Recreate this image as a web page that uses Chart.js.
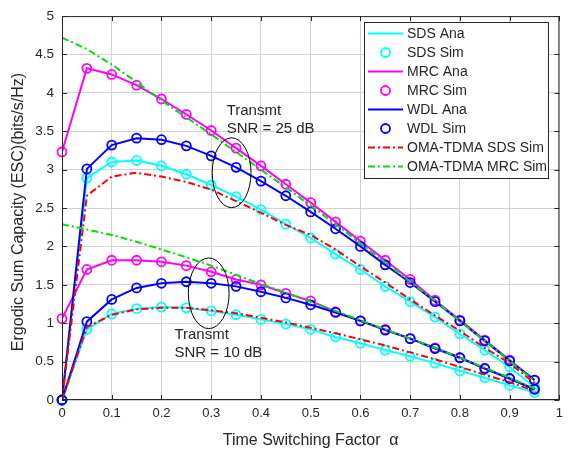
<!DOCTYPE html>
<html>
<head>
<meta charset="utf-8">
<script src="https://cdn.jsdelivr.net/npm/chart.js@4.4.1/dist/chart.umd.min.js"></script>
<style>
html,body{margin:0;padding:0;background:#fff;}
#wrap{width:569px;height:453px;}
</style>
</head>
<body>
<div id="wrap"><canvas id="c" width="569" height="453"></canvas></div>
<script>
// ---- data ----
const alpha = [0,0.05,0.1,0.15,0.2,0.25,0.3,0.35,0.4,0.45,0.5,0.55,0.6,0.65,0.7,0.75,0.8,0.85,0.9,0.95];

// Transmit SNR = 25 dB
const sdsAna25 = [0,2.89,3.10,3.12,3.05,2.94,2.80,2.65,2.48,2.29,2.11,1.90,1.70,1.48,1.28,1.08,0.86,0.65,0.43,0.17];
const sdsSim25 = [0,2.89,3.10,3.12,3.05,2.94,2.80,2.65,2.48,2.29,2.11,1.90,1.70,1.48,1.28,1.08,0.86,0.65,0.43,0.17];
const mrcAna25 = [3.23,4.32,4.24,4.10,3.92,3.72,3.51,3.28,3.05,2.81,2.57,2.32,2.07,1.82,1.57,1.30,1.04,0.78,0.52,0.26];
const mrcSim25 = [3.23,4.32,4.24,4.10,3.92,3.72,3.51,3.28,3.05,2.81,2.57,2.32,2.07,1.82,1.57,1.30,1.04,0.78,0.52,0.26];
const wdlAna25 = [0,3.01,3.32,3.41,3.39,3.31,3.18,3.03,2.85,2.66,2.45,2.23,2.00,1.76,1.53,1.28,1.03,0.77,0.51,0.26];
const wdlSim25 = [0,3.01,3.32,3.41,3.39,3.31,3.18,3.03,2.85,2.66,2.45,2.23,2.00,1.76,1.53,1.28,1.03,0.77,0.51,0.26];
const omaSds25 = [0,2.66,2.91,2.96,2.91,2.84,2.74,2.59,2.44,2.28,2.15,1.96,1.74,1.53,1.31,1.10,0.90,0.68,0.48,0.22];
const omaMrc25 = [4.72,4.57,4.37,4.14,3.90,3.68,3.46,3.23,3.00,2.77,2.53,2.29,2.04,1.79,1.54,1.29,1.03,0.77,0.51,0.25];

// Transmit SNR = 10 dB
const sdsAna10 = [0,0.92,1.12,1.19,1.21,1.20,1.16,1.11,1.05,0.99,0.92,0.82,0.74,0.65,0.57,0.48,0.38,0.29,0.19,0.10];
const sdsSim10 = [0,0.92,1.12,1.19,1.21,1.20,1.16,1.11,1.05,0.99,0.92,0.82,0.74,0.65,0.57,0.48,0.38,0.29,0.19,0.10];
const mrcAna10 = [1.06,1.70,1.82,1.82,1.80,1.75,1.67,1.57,1.50,1.39,1.29,1.15,1.03,0.92,0.80,0.68,0.55,0.41,0.28,0.14];
const mrcSim10 = [1.06,1.70,1.82,1.82,1.80,1.75,1.67,1.57,1.50,1.39,1.29,1.15,1.03,0.92,0.80,0.68,0.55,0.41,0.28,0.14];
const wdlAna10 = [0,1.02,1.31,1.46,1.52,1.54,1.52,1.48,1.41,1.33,1.24,1.14,1.03,0.91,0.80,0.67,0.55,0.41,0.28,0.14];
const wdlSim10 = [0,1.02,1.31,1.46,1.52,1.54,1.52,1.48,1.41,1.33,1.24,1.14,1.03,0.91,0.80,0.67,0.55,0.41,0.28,0.14];
const omaSds10 = [0,0.95,1.11,1.18,1.20,1.20,1.17,1.13,1.07,1.01,0.94,0.87,0.79,0.71,0.62,0.53,0.43,0.33,0.23,0.12];
const omaMrc10 = [2.29,2.22,2.15,2.06,1.96,1.86,1.75,1.63,1.51,1.40,1.28,1.16,1.04,0.92,0.80,0.68,0.55,0.42,0.29,0.15];

const seriesNames = ['SDS Ana','SDS Sim','MRC Ana','MRC Sim','WDL Ana','WDL Sim','OMA-TDMA SDS Sim','OMA-TDMA MRC Sim'];
const xTicks = [0,0.1,0.2,0.3,0.4,0.5,0.6,0.7,0.8,0.9,1];
const yTicks = [0,0.5,1,1.5,2,2.5,3,3.5,4,4.5,5];
const xTitle = 'Time Switching Factor  α';
const yTitle = 'Ergodic Sum Capacity (ESC)(bits/s/Hz)';
const notes = [
  {lines:['Transmt','SNR = 25 dB'], x:0.331, y:[3.77,3.53], ex:0.341, ey:2.96, rx:0.039, ry:0.455},
  {lines:['Transmt','SNR = 10 dB'], x:0.226, y:[0.85,0.61], ex:0.295, ey:1.39, rx:0.041, ry:0.46}
];

// ---- build ----
function join(a, b){
  const pts = alpha.map((x,i)=>({x:x, y:a[i]}));
  pts.push({x:alpha[alpha.length-1], y:null});
  return pts.concat(alpha.map((x,i)=>({x:x, y:b[i]})));
}
const FONT = '"Liberation Sans", Arial, Helvetica, sans-serif';
const INK = '#262626';
const styles = [
  {c:'#00ffff', line:true},
  {c:'#00ffff', line:false},
  {c:'#ff00ff', line:true},
  {c:'#ff00ff', line:false},
  {c:'#0000ff', line:true},
  {c:'#0000ff', line:false},
  {c:'#ff0000', line:true, dash:[7,3,2,3]},
  {c:'#00e000', line:true, dash:[7,3,2,3]}
];
const pairs = [[sdsAna25,sdsAna10],[sdsSim25,sdsSim10],[mrcAna25,mrcAna10],[mrcSim25,mrcSim10],
               [wdlAna25,wdlAna10],[wdlSim25,wdlSim10],[omaSds25,omaSds10],[omaMrc25,omaMrc10]];
const datasets = pairs.map((p,i)=>{
  const s = styles[i];
  return {
    label: seriesNames[i],
    data: join(p[0], p[1]),
    borderColor: s.c,
    backgroundColor: 'rgba(0,0,0,0)',
    showLine: s.line,
    borderWidth: 2,
    borderDash: s.dash || [],
    pointRadius: s.line ? 0 : 4.5,
    pointBorderWidth: 1.8,
    pointBorderColor: s.c,
    pointBackgroundColor: 'rgba(0,0,0,0)',
    spanGaps: false,
    tension: 0,
    clip: s.line ? 0 : false,
    order: 7 - i
  };
});

const decor = {
  id:'decor',
  beforeDatasetsDraw(chart){
    const {ctx, chartArea:a} = chart;
    ctx.save();
    ctx.fillStyle = INK;
    ctx.font = '16px ' + FONT;
    ctx.textAlign = 'center'; ctx.textBaseline = 'middle';
    ctx.translate(19, 212);
    ctx.rotate(-Math.PI/2);
    ctx.fillText(yTitle, 0, 0);
    ctx.restore();
  },
  afterDatasetsDraw(chart){
    const {ctx, chartArea:a, scales:{x, y}} = chart;
    ctx.save();
    // annotations
    ctx.strokeStyle = '#000'; ctx.lineWidth = 1;
    ctx.fillStyle = INK;
    ctx.font = '15px ' + FONT;
    ctx.textBaseline = 'middle'; ctx.textAlign = 'left';
    notes.forEach(n=>{
      const cx = x.getPixelForValue(n.ex), cy = y.getPixelForValue(n.ey);
      const rx = x.getPixelForValue(n.ex + n.rx) - cx;
      const ry = cy - y.getPixelForValue(n.ey + n.ry);
      ctx.beginPath(); ctx.ellipse(cx, cy, rx, ry, 0, 0, Math.PI*2); ctx.stroke();
      n.lines.forEach((t,k)=>ctx.fillText(t, x.getPixelForValue(n.x), y.getPixelForValue(n.y[k])));
    });
    // frame + inward ticks
    ctx.strokeStyle = INK; ctx.lineWidth = 1;
    ctx.strokeRect(a.left+0.5, a.top+0.5, a.right-a.left-1, a.bottom-a.top-1);
    ctx.beginPath();
    xTicks.forEach(v=>{
      const px = Math.round(x.getPixelForValue(v))+0.5;
      ctx.moveTo(px, a.bottom); ctx.lineTo(px, a.bottom-5);
      ctx.moveTo(px, a.top); ctx.lineTo(px, a.top+5);
    });
    yTicks.forEach(v=>{
      const py = Math.round(y.getPixelForValue(v))+0.5;
      ctx.moveTo(a.left, py); ctx.lineTo(a.left+5, py);
      ctx.moveTo(a.right, py); ctx.lineTo(a.right-5, py);
    });
    ctx.stroke();
    // legend
    const L = 364.5, T = 22.5, W = 184, H = 156;
    ctx.fillStyle = '#fff'; ctx.fillRect(L, T, W, H);
    ctx.strokeStyle = INK; ctx.strokeRect(L, T, W, H);
    ctx.font = '14px ' + FONT;
    seriesNames.forEach((name,i)=>{
      const s = styles[i];
      const ry = 33.5 + i*19;
      ctx.strokeStyle = s.c; ctx.lineWidth = 2;
      if (s.line){
        ctx.setLineDash(s.dash || []);
        ctx.beginPath(); ctx.moveTo(368, ry); ctx.lineTo(403, ry); ctx.stroke();
        ctx.setLineDash([]);
      } else {
        ctx.lineWidth = 1.8;
        ctx.beginPath(); ctx.arc(385.5, ry, 4.5, 0, Math.PI*2); ctx.stroke();
      }
      ctx.fillStyle = INK;
      ctx.fillText(name, 407, ry+0.5);
    });
    ctx.restore();
  }
};

new Chart(document.getElementById('c'), {
  type:'line',
  data:{datasets},
  options:{
    responsive:false,
    animation:false,
    events:[],
    layout:{padding:{top:10, right:9, left:0, bottom:0}},
    plugins:{legend:{display:false}, tooltip:{enabled:false}},
    scales:{
      x:{
        type:'linear', min:0, max:1,
        afterFit(s){ s.height = 53; },
        afterBuildTicks(s){ s.ticks = xTicks.map(v=>({value:v})); },
        grid:{color:'#d2d2d2', lineWidth:1, drawTicks:false},
        border:{display:false},
        ticks:{padding:6, color:INK, font:{family:FONT, size:13}, maxRotation:0,
               callback:v=>String(+v.toFixed(2))},
        title:{display:true, text:xTitle, color:INK,
               font:{family:FONT, size:16}, padding:{top:0, bottom:3}}
      },
      y:{
        type:'linear', min:0, max:5,
        afterFit(s){ s.width = 62; },
        afterBuildTicks(s){ s.ticks = yTicks.map(v=>({value:v})); },
        grid:{color:'#d2d2d2', lineWidth:1, drawTicks:false},
        border:{display:false},
        ticks:{padding:8, color:INK, font:{family:FONT, size:13.5},
               callback:v=>String(+v.toFixed(2))},
        title:{display:false}
      }
    }
  },
  plugins:[decor]
});
</script>
</body>
</html>
